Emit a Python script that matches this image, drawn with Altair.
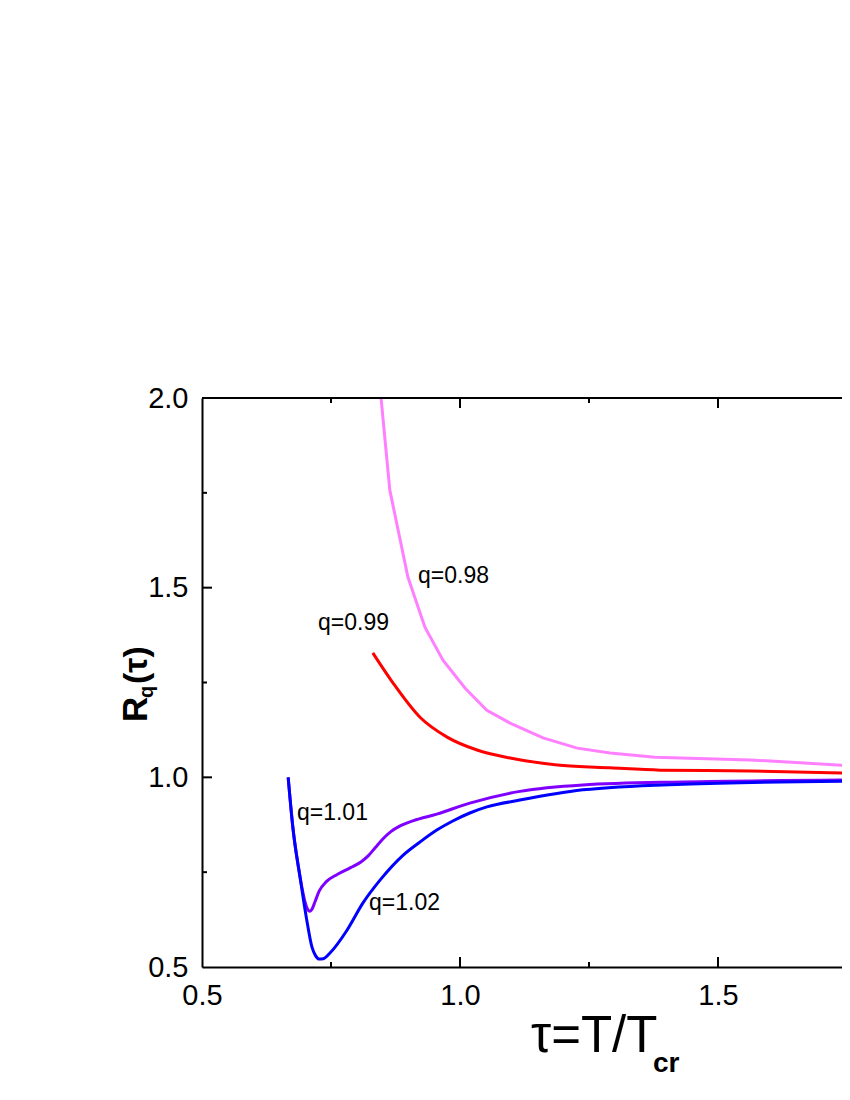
import altair as alt
import pandas as pd

# ---- data ----
tau_098 = [0.847, 0.864, 0.899, 0.932, 0.967, 1.010, 1.052, 1.097, 1.161, 1.227, 1.291, 1.378, 1.562, 1.760]
r_098   = [2.000, 1.757, 1.528, 1.396, 1.309, 1.235, 1.177, 1.143, 1.104, 1.077, 1.064, 1.053, 1.046, 1.030]

tau_099 = [0.831, 0.870, 0.922, 0.975, 1.033, 1.097, 1.194, 1.291, 1.388, 1.562, 1.760]
r_099   = [1.328, 1.249, 1.159, 1.106, 1.072, 1.051, 1.032, 1.025, 1.019, 1.017, 1.011]

tau_101 = [0.667, 0.676, 0.690, 0.699, 0.704, 0.708, 0.713, 0.719, 0.727, 0.741, 0.762, 0.788, 0.808, 0.822, 0.836, 0.850, 0.866, 0.884, 0.910, 0.955, 1.019, 1.116, 1.238, 1.432, 1.760]
r_101   = [1.000, 0.869, 0.737, 0.675, 0.654, 0.647, 0.652, 0.672, 0.700, 0.725, 0.744, 0.762, 0.777, 0.793, 0.815, 0.837, 0.857, 0.872, 0.886, 0.903, 0.932, 0.963, 0.980, 0.988, 0.993]

tau_102 = [0.667, 0.676, 0.690, 0.703, 0.713, 0.720, 0.727, 0.735, 0.748, 0.781, 0.812, 0.845, 0.890, 0.922, 0.955, 0.986, 1.019, 1.052, 1.116, 1.238, 1.432, 1.760]
r_102   = [1.000, 0.869, 0.737, 0.624, 0.553, 0.530, 0.521, 0.522, 0.537, 0.597, 0.669, 0.729, 0.795, 0.829, 0.861, 0.885, 0.906, 0.922, 0.940, 0.967, 0.982, 0.990]

label_text = ["q=0.98", "q=0.99", "q=1.01", "q=1.02"]
label_tau  = [0.9186, 0.7248, 0.684, 0.8236]
label_r    = [1.512, 1.388, 0.887, 0.650]

x_major = [1.0, 1.5]
x_minor = [0.75, 1.25]
y_major = [1.0, 1.5]
y_minor = [0.75, 1.25, 1.75]

series = [
    ("q=0.98", tau_098, r_098, "#FF80FF", "linear"),
    ("q=0.99", tau_099, r_099, "#FF0000", "monotone"),
    ("q=1.01", tau_101, r_101, "#8000FF", "monotone"),
    ("q=1.02", tau_102, r_102, "#0000FF", "monotone"),
]

W, H = 640, 569
FONT = "Liberation Sans"
xscale = alt.Scale(domain=[0.5, 0.5 + W / 516], nice=False, zero=False)
yscale = alt.Scale(domain=[0.5, 2.0], nice=False, zero=False)

axis_common = dict(ticks=False, tickSize=0, grid=False, domainColor="black", domainWidth=2,
                   labelFont=FONT, labelFontSize=29, labelColor="black",
                   labelPadding=14, labelOverlap=False, labelFlush=False, format=".1f", title=None)
XENC = alt.X("tau:Q", scale=xscale, title=None, axis=alt.Axis(values=[0.5, 1.0, 1.5], **axis_common))
YENC = alt.Y("R:Q", scale=yscale, title=None, axis=alt.Axis(values=[0.5, 1.0, 1.5, 2.0], **axis_common))

layers = []
for name, xs, ys, col, interp in series:
    d = pd.DataFrame({"tau": xs, "R": ys, "ord": list(range(len(xs)))})
    layers.append(
        alt.Chart(d).mark_line(color=col, strokeWidth=3, interpolate=interp, clip=True)
        .encode(x=XENC, y=YENC, order="ord:Q")
    )

# frame top line
top = alt.Chart(pd.DataFrame({"a": [0]})).mark_rule(color="black", strokeWidth=2).encode(
    x=alt.value(0), x2=alt.value(W + 5), y=alt.value(0))
layers.append(top)

def tick_layer(vals, axis, length, side):
    if axis == "x":
        d = pd.DataFrame({"tau": vals})
        m = alt.Chart(d).mark_rule(color="black", strokeWidth=2)
        if side == "bottom":
            return m.encode(x=XENC, y=alt.value(H), y2=alt.value(H - length))
        return m.encode(x=XENC, y=alt.value(0), y2=alt.value(length))
    d = pd.DataFrame({"R": vals})
    m = alt.Chart(d).mark_rule(color="black", strokeWidth=2)
    return m.encode(y=YENC, x=alt.value(0), x2=alt.value(length))

layers += [
    tick_layer(x_major, "x", 10, "bottom"), tick_layer(x_minor, "x", 5, "bottom"),
    tick_layer(x_major, "x", 10, "top"), tick_layer(x_minor, "x", 5, "top"),
    tick_layer(y_major, "y", 10, "left"), tick_layer(y_minor, "y", 5, "left"),
]

labels = pd.DataFrame({"tau": label_tau, "R": label_r, "txt": label_text})
layers.append(
    alt.Chart(labels).mark_text(align="left", baseline="alphabetic", font=FONT, fontSize=23, color="black")
    .encode(x=XENC, y=YENC, text="txt:N")
)

one = pd.DataFrame({"a": [0]})
def txt(s, x, y, size, weight="normal", angle=0):
    kw = dict(align="left", baseline="alphabetic", font=FONT, fontSize=size, fontWeight=weight, color="black", text=s)
    if angle:
        kw["angle"] = angle
    return alt.Chart(one).mark_text(**kw).encode(x=alt.value(x), y=alt.value(y))

layers += [
    txt("R", -55, 324, 35, "bold", 270),
    txt("q", -49, 300, 20, "bold", 270),
    txt("(τ)", -55, 286, 34, "bold", 270),
    txt("τ=T/T", 329, 654, 51),
    txt("cr", 451, 674, 28, "bold"),
]

chart = alt.layer(*layers).properties(
    width=W, height=H,
    padding={"left": 194, "top": 390, "right": 0, "bottom": 112},
    autosize=alt.AutoSizeParams(type="none"),
).configure_view(stroke=None).configure(background="white")

chart.save("out.html", embed_options={"renderer": "svg", "actions": False})
